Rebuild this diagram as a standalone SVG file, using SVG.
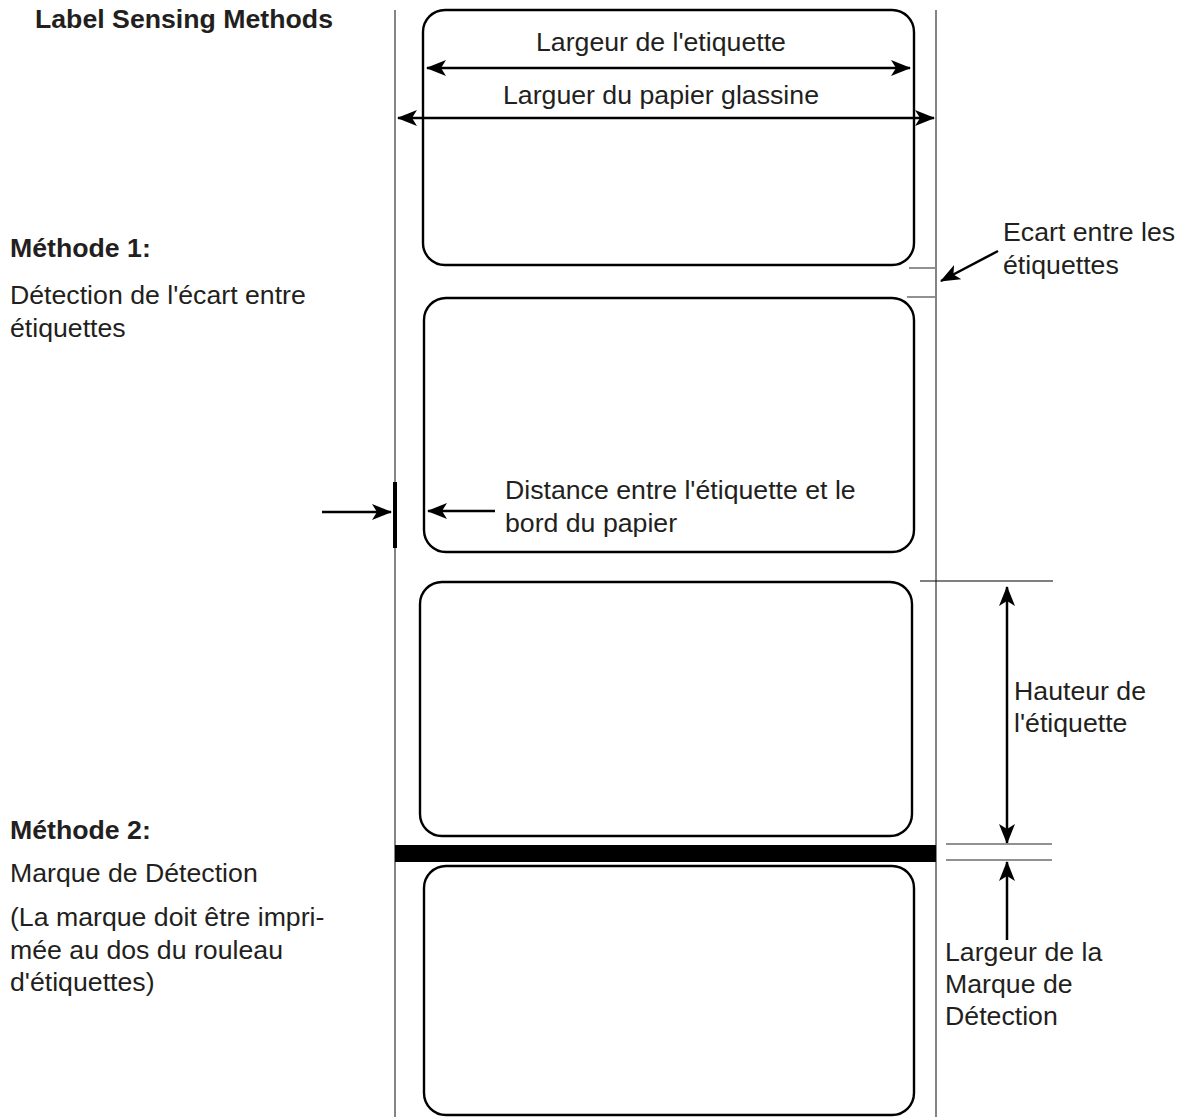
<svg xmlns="http://www.w3.org/2000/svg" width="1194" height="1117" viewBox="0 0 1194 1117">
<style>
.t{font-family:"Liberation Sans",Arial,sans-serif;font-size:25.5px;fill:#231f20}
.b{font-weight:bold}
.lab{fill:none;stroke:#000;stroke-width:2.4}
.arr{stroke:#000;stroke-width:2.5;fill:none}
.thin{stroke:#000;stroke-width:1.2}
.grey{stroke:#6d6d6d;stroke-width:1.5}
</style>
<defs>
<marker id="ah" viewBox="0 0 20 16" refX="19" refY="8" markerWidth="20" markerHeight="16" markerUnits="userSpaceOnUse" orient="auto-start-reverse">
<path d="M0,0 L20,8 L0,16 L5,8 z" fill="#000"/>
</marker>
</defs>
<rect width="1194" height="1117" fill="#fff"/>
<g id="paper">
<line x1="395" y1="10" x2="395" y2="1117" stroke="#333" stroke-width="1.2"/>
<line x1="936" y1="10" x2="936" y2="1117" stroke="#777" stroke-width="1.8"/>
</g>
<g id="label1"><rect class="lab" x="423" y="10" width="491" height="255" rx="22"/></g>
<g id="label2"><rect class="lab" x="424" y="298" width="490" height="254" rx="22"/></g>
<g id="label3"><rect class="lab" x="420" y="582" width="492" height="254" rx="22"/></g>
<g id="label4"><rect class="lab" x="424" y="866" width="490" height="249" rx="22"/></g>
<g id="mark"><rect x="395" y="845" width="541" height="17" fill="#000"/></g>
<g id="sensor"><rect x="393" y="482" width="4" height="66" fill="#000"/></g>
<g id="connectors">
<line class="arr" x1="427" y1="68" x2="910" y2="68" marker-start="url(#ah)" marker-end="url(#ah)"/>
<line class="arr" x1="398" y1="118" x2="934" y2="118" marker-start="url(#ah)" marker-end="url(#ah)"/>
<line class="grey" x1="909" y1="268" x2="935" y2="268" stroke-width="1"/>
<line class="grey" x1="907" y1="297" x2="935" y2="297" stroke-width="1"/>
<line class="arr" x1="998" y1="251" x2="941" y2="281" marker-end="url(#ah)"/>
<line class="arr" x1="322" y1="512" x2="391" y2="512" marker-end="url(#ah)"/>
<line class="arr" x1="495" y1="511" x2="428" y2="511" marker-end="url(#ah)"/>
<line class="thin" x1="920" y1="581" x2="1053" y2="581"/>
<line class="arr" x1="1007" y1="587" x2="1007" y2="843" marker-start="url(#ah)" marker-end="url(#ah)"/>
<line class="grey" x1="946" y1="844" x2="1052" y2="844"/>
<line class="grey" x1="946" y1="860" x2="1052" y2="860"/>
<line class="arr" x1="1007" y1="940" x2="1007" y2="862" marker-end="url(#ah)"/>
</g>
<g id="texts" transform="scale(1.047,1)">
<text class="t b" x="33.4" y="28">Label Sensing Methods</text>
<text class="t" x="631.3" y="51" text-anchor="middle">Largeur de l'etiquette</text>
<text class="t" x="631.3" y="104" text-anchor="middle">Larguer du papier glassine</text>
<text class="t" x="958" y="241">Ecart entre les</text>
<text class="t" x="958" y="274">étiquettes</text>
<text class="t b" x="9.55" y="257">Méthode 1:</text>
<text class="t" x="9.55" y="304">Détection de l'écart entre</text>
<text class="t" x="9.55" y="337">étiquettes</text>
<text class="t" x="482.3" y="499">Distance entre l'étiquette et le</text>
<text class="t" x="482.3" y="532">bord du papier</text>
<text class="t" x="968.5" y="700">Hauteur de</text>
<text class="t" x="968.5" y="732">l'étiquette</text>
<text class="t b" x="9.55" y="839">Méthode 2:</text>
<text class="t" x="9.55" y="882">Marque de Détection</text>
<text class="t" x="9.55" y="926">(La marque doit être impri-</text>
<text class="t" x="9.55" y="959">mée au dos du rouleau</text>
<text class="t" x="9.55" y="991">d'étiquettes)</text>
<text class="t" x="902.6" y="961">Largeur de la</text>
<text class="t" x="902.6" y="993">Marque de</text>
<text class="t" x="902.6" y="1025">Détection</text>
</g>
</svg>
